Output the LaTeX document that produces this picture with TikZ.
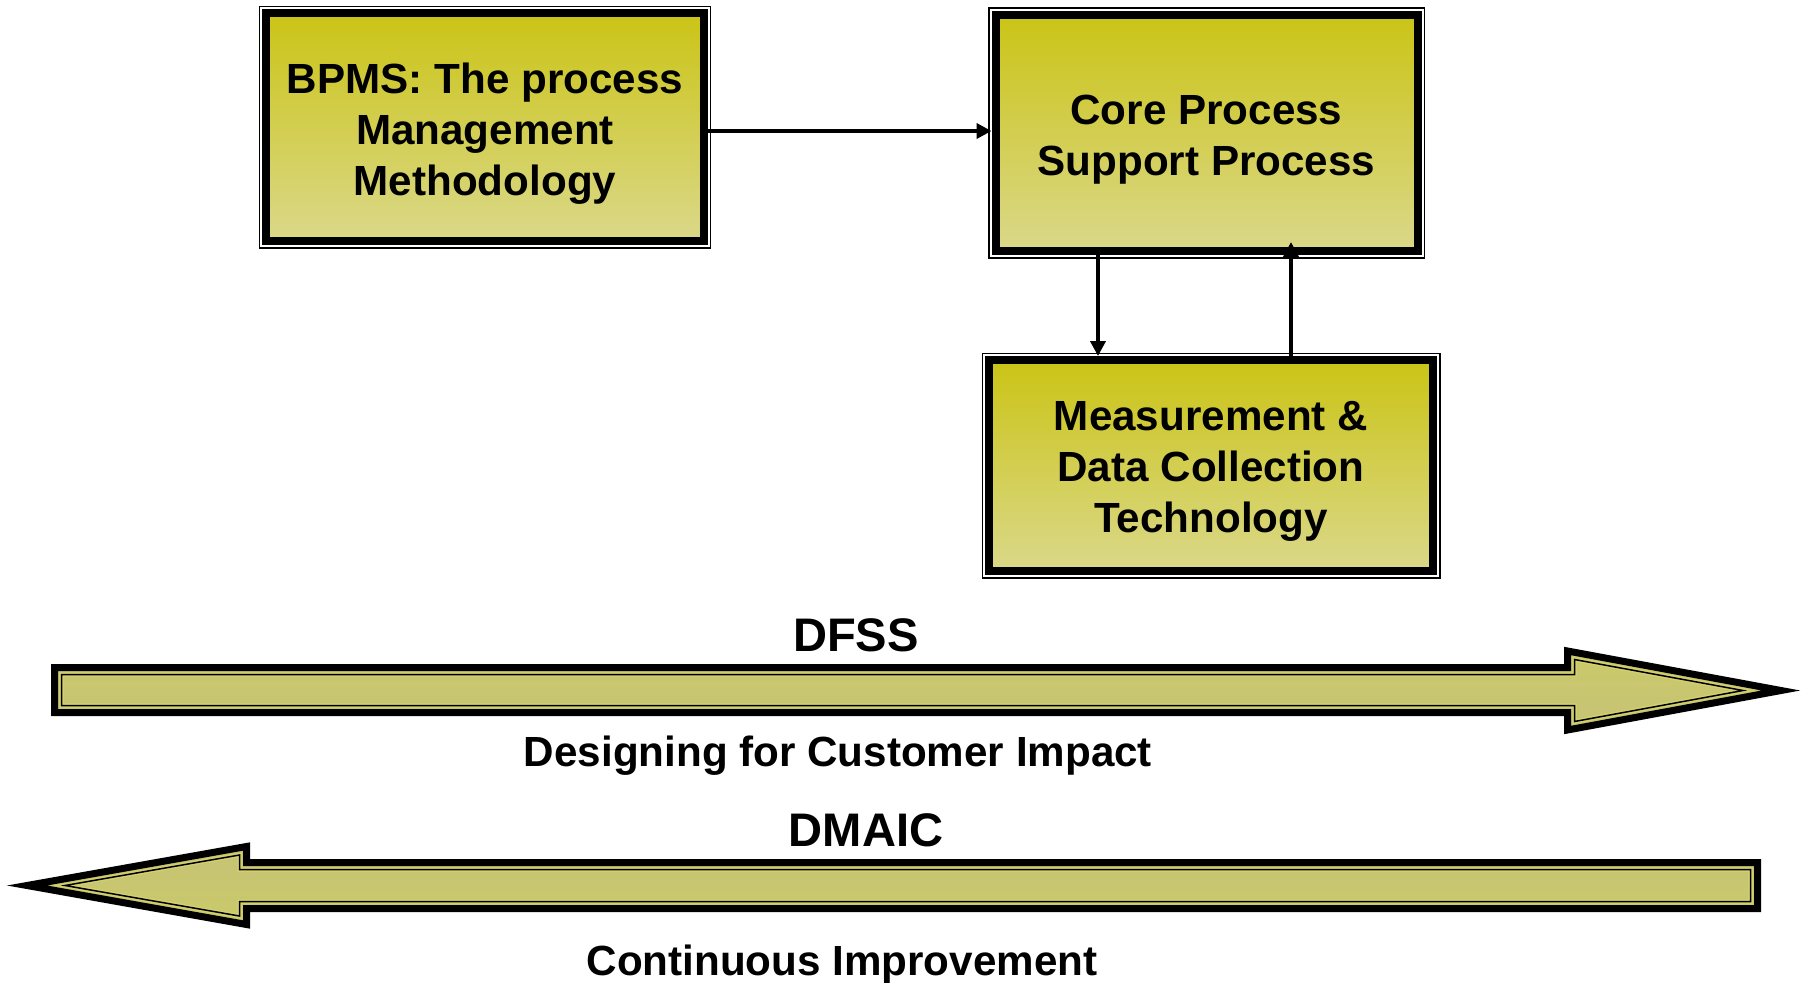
\documentclass[tikz,border=0pt]{standalone}
\usepackage{fontspec}
\setmainfont{Liberation Sans}
\usetikzlibrary{arrows.meta}

\definecolor{boxtop}{RGB}{203,196,22}
\definecolor{boxbot}{RGB}{218,216,138}
\definecolor{bandyel}{RGB}{210,208,110}
\definecolor{arrtop}{RGB}{198,194,118}
\definecolor{arrbot}{RGB}{203,202,106}

\tikzset{
  procbox/.style={draw=black, line width=0.8mm, top color=boxtop, bottom color=boxbot,
    preaction={draw=black, line width=1.5mm},
    preaction={draw=white, line width=1.2mm},
    inner sep=0pt},
  boxtxt/.style={align=center, inner sep=0pt, font=\fontsize{12}{14.6}\selectfont\bfseries},
  link/.style={line width=0.4mm, -{Triangle[length=1.5mm,width=1.5mm]}},
  bigarrow/.style={draw=black, line width=0.7mm, line join=miter},
  innerline/.style={draw=black, line width=0.15mm, line join=miter,
    preaction={draw=bandyel, line width=0.45mm}},
  lbl/.style={font=\fontsize{12}{14.6}\selectfont\bfseries, inner sep=0pt, anchor=base},
  headlbl/.style={font=\fontsize{13.4}{16}\selectfont\bfseries, inner sep=0pt, anchor=base}
}

\begin{document}
\begin{tikzpicture}[x=0.1mm, y=-0.1mm]
\useasboundingbox (0,0) rectangle (1801,983);

% boxes
\node[procbox, minimum width=43.8mm, minimum height=22.8mm] (bpms) at (485,127) {};
\node[procbox, minimum width=42.2mm, minimum height=23.65mm] (core) at (1206.5,132.75) {};
\node[procbox, minimum width=44.4mm, minimum height=21.1mm] (meas) at (1211,465.5) {};
\node[boxtxt] (bpmstxt) at ([yshift=-0.65mm]bpms.center) {BPMS: The process\\Management\\Methodology};
\node[boxtxt] (coretxt) at ([yshift=-0.7mm]core.center) {Core Process\\Support Process};
\node[boxtxt] (meastxt) at ([yshift=-0.6mm]meas.center) {Measurement \&\\Data Collection\\Technology};

% links
\draw[link] ([yshift=-0.4mm]bpms.east) -- ([yshift=-0.4mm]bpms.east -| core.west);
\draw[link] ([xshift=-10.85mm]core.south) -- ([xshift=-10.85mm]core.south |- meas.north);
\draw[link] ([xshift=8.45mm]core.south |- meas.north) -- ([xshift=8.45mm,yshift=1.3mm]core.south);

% DFSS arrow
\draw[bigarrow, top color=arrbot, bottom color=arrtop] (54.5,667.5) -- (1567.5,667.5) -- (1567.5,651) -- (1781,690.5) -- (1567.5,730) -- (1567.5,712.5) -- (54.5,712.5) -- cycle;
\draw[innerline] (61.5,674.5) -- (1574.5,674.5) -- (1574.5,659.5) -- (1743,690.5) -- (1574.5,721.5) -- (1574.5,705.5) -- (61.5,705.5) -- cycle;

% DMAIC arrow
\draw[bigarrow, top color=arrtop, bottom color=arrbot] (1757.5,862.5) -- (246.5,862.5) -- (246.5,846.5) -- (27,885.5) -- (246.5,924.5) -- (246.5,908.5) -- (1757.5,908.5) -- cycle;
\draw[innerline] (1750.5,869.5) -- (239.5,869.5) -- (239.5,855) -- (65,885.5) -- (239.5,916) -- (239.5,901.5) -- (1750.5,901.5) -- cycle;

% labels
\node[headlbl] (dfss) at (856,651) {DFSS};
\node[lbl] (dfci) at (838,766) {Designing for Customer Impact};
\node[headlbl] (dmaic) at (866,846) {DMAIC};
\node[lbl] (contimp) at (842,975) {Continuous Improvement};
\end{tikzpicture}
\end{document}
